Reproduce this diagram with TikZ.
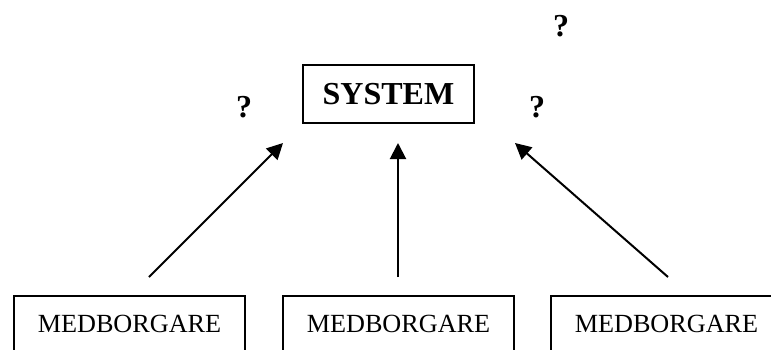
\documentclass[tikz,border=0pt]{standalone}
\usepackage{fontspec}
\setmainfont{Liberation Serif}
\usetikzlibrary{arrows.meta}
\tikzset{
  sysbox/.style={draw, line width=1pt, inner sep=0pt, minimum width=85.5pt, minimum height=29pt, font=\fontsize{16}{19}\selectfont\bfseries},
  citbox/.style={draw, line width=1pt, inner xsep=0pt, inner ysep=0pt, minimum width=115.5pt, text height=18pt, text depth=19pt, anchor=base, font=\fontsize{13.1}{15}\selectfont},
  qmark/.style={inner sep=0pt, anchor=base, font=\fontsize{16}{19}\selectfont\bfseries},
  uparrow/.style={line width=1pt, -{Triangle[length=8pt,width=8pt]}}
}
\begin{document}
\begin{tikzpicture}[x=0.5pt,y=-0.5pt]
\useasboundingbox (0,0) rectangle (771,349);
\clip (0,0) rectangle (771,349);
\fill[white] (0,0) rectangle (771,349);
\node[sysbox] (sys) at (388.5,94) {SYSTEM};
\node[qmark] (q1) at (244,117) {?};
\node[qmark] (q2) at (537,117) {?};
\node[qmark] (q3) at (561,36) {?};
\node[citbox] (m1) at (129.5,332) {MEDBORGARE};
\node[citbox] (m2) at (398.5,332) {MEDBORGARE};
\node[citbox] (m3) at (666.5,332) {MEDBORGARE};
\coordinate (a1s) at (149,277);
\coordinate (a1e) at (283,143);
\coordinate (a2s) at (398,277);
\coordinate (a2e) at (398,143);
\coordinate (a3s) at (668,277);
\coordinate (a3e) at (515,143);
\draw[uparrow] (a1s) -- (a1e);
\draw[uparrow] (a2s) -- (a2e);
\draw[uparrow] (a3s) -- (a3e);
\end{tikzpicture}
\end{document}
